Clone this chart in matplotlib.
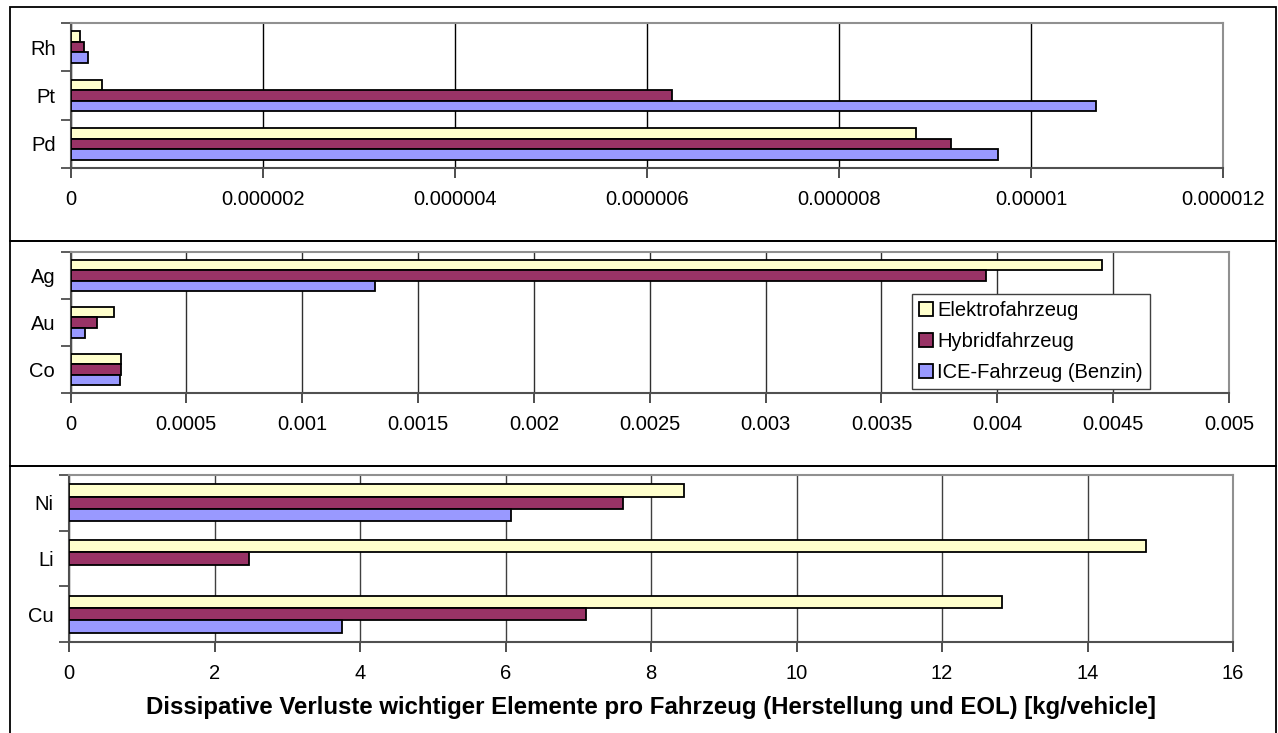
import matplotlib
matplotlib.use("Agg")
import matplotlib.pyplot as plt
from matplotlib.patches import Rectangle, Patch
from matplotlib.ticker import FuncFormatter
import numpy as np

plt.rcParams['font.family'] = ['Liberation Sans', 'DejaVu Sans']

# Series names and colours (top to bottom within each group)
series = ["Elektrofahrzeug", "Hybridfahrzeug", "ICE-Fahrzeug (Benzin)"]
colors = ["#FFFFCC", "#993366", "#9999FF"]

# Panel 1: precious metals (bottom to top)
cat_pgm = ["Pd", "Pt", "Rh"]
pgm_elektro = [8.80e-6, 3.2e-7, 9.0e-8]
pgm_hybrid = [9.17e-6, 6.26e-6, 1.38e-7]
pgm_ice = [9.66e-6, 1.068e-5, 1.8e-7]
ticks_pgm = [0, 2e-6, 4e-6, 6e-6, 8e-6, 1e-5, 1.2e-5]

# Panel 2: Co, Au, Ag
cat_mid = ["Co", "Au", "Ag"]
mid_elektro = [0.000219, 0.000189, 0.00445]
mid_hybrid = [0.000216, 0.000116, 0.00395]
mid_ice = [0.000212, 0.0000626, 0.001314]
ticks_mid = [0, 0.0005, 0.001, 0.0015, 0.002, 0.0025, 0.003, 0.0035, 0.004, 0.0045, 0.005]

# Panel 3: bulk metals
cat_bulk = ["Cu", "Li", "Ni"]
bulk_elektro = [12.82, 14.80, 8.46]
bulk_hybrid = [7.11, 2.47, 7.61]
bulk_ice = [3.75, 0.0, 6.07]
ticks_bulk = [0, 2, 4, 6, 8, 10, 12, 14, 16]

xlabel = "Dissipative Verluste wichtiger Elemente pro Fahrzeug (Herstellung und EOL) [kg/vehicle]"

W, H = 1278, 733
fig = plt.figure(figsize=(W / 100, H / 100), dpi=100)
fig.patch.set_facecolor("white")

FS = 14.5


def fmt(decimals):
    def f(v, pos):
        if v == 0:
            return "0"
        if decimals == 0:
            return f"{v:.0f}"
        return f"{v:.{decimals}f}".rstrip("0").rstrip(".")
    return FuncFormatter(f)


def panel(rect_px, cats, vals, ticks, decimals, grid_color):
    l, t, r, b = rect_px
    ax = fig.add_axes([l / W, 1 - b / H, (r - l) / W, (b - t) / H])
    y = np.arange(len(cats))
    bh = 0.22
    offsets = [bh, 0.0, -bh]
    for s_vals, col, off in zip(vals, colors, offsets):
        for yi, v in zip(y, s_vals):
            if v > 0:
                ax.barh(yi + off, v, height=bh, color=col, edgecolor="black",
                        linewidth=1.3, zorder=3)
    ax.set_ylim(-0.5, len(cats) - 0.5)
    ax.set_xlim(ticks[0], ticks[-1])
    ax.set_xticks(ticks)
    ax.xaxis.set_major_formatter(fmt(decimals))
    ax.set_yticks(y)
    ax.set_yticklabels(cats)
    ax.set_yticks(np.arange(-0.5, len(cats), 1.0), minor=True)
    ax.tick_params(axis="y", which="major", length=0, pad=11, labelsize=FS)
    ax.tick_params(axis="y", which="minor", length=7, width=1.2, color="#404040",
                   direction="out")
    ax.tick_params(axis="x", length=7, width=1.2, color="#303030", direction="out",
                   pad=9, labelsize=FS)
    ax.grid(axis="x", color=grid_color, linewidth=1.0, zorder=1)
    for side in ["top", "right"]:
        ax.spines[side].set_color("#909090")
        ax.spines[side].set_linewidth(1.5)
    for side in ["left", "bottom"]:
        ax.spines[side].set_color("#505050")
        ax.spines[side].set_linewidth(1.5)
    return ax


ax1 = panel((71, 23, 1223, 168), cat_pgm, [pgm_elektro, pgm_hybrid, pgm_ice],
            ticks_pgm, 6, "#000000")
ax2 = panel((70.5, 252, 1229, 393), cat_mid, [mid_elektro, mid_hybrid, mid_ice],
            ticks_mid, 4, "#303030")
ax3 = panel((69, 475, 1233, 642), cat_bulk, [bulk_elektro, bulk_hybrid, bulk_ice],
            ticks_bulk, 0, "#404040")
ax3.set_xlabel(xlabel, fontsize=17.3, fontweight="bold", labelpad=9)

# Outer chart frames
for top, bottom in [(7, 241), (241, 466), (466, 740)]:
    fig.patches.append(Rectangle((10 / W, 1 - bottom / H), 1266 / W, (bottom - top) / H,
                                 transform=fig.transFigure, fill=False,
                                 edgecolor="black", linewidth=1.3, zorder=0))

handles = [Patch(facecolor=c, edgecolor="black", linewidth=1.3) for c in colors]
leg = ax2.legend(handles, series, loc="upper left",
                 bbox_to_anchor=(912 / W, 1 - 294 / H), bbox_transform=fig.transFigure,
                 borderaxespad=0, fontsize=FS, handlelength=0.7, handleheight=0.7,
                 handletextpad=0.2, labelspacing=0.6, borderpad=0.35,
                 fancybox=False, framealpha=1)
leg.get_frame().set_edgecolor("#404040")
leg.get_frame().set_linewidth(1.0)
leg.set_zorder(10)

fig.savefig("out.png", dpi=100, facecolor="white")
